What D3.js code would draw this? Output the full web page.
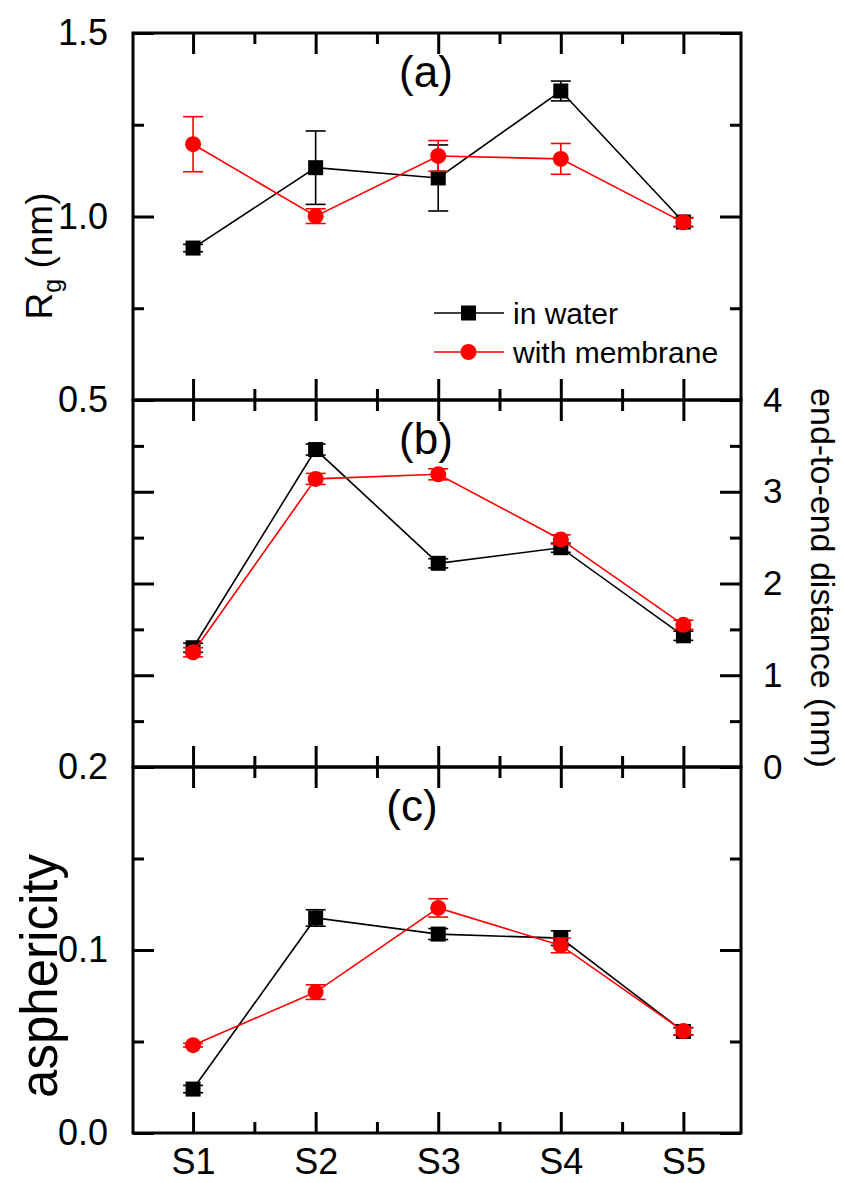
<!DOCTYPE html>
<html>
<head>
<meta charset="utf-8">
<script src="https://cdn.jsdelivr.net/npm/d3@7"></script>
<style>
  body { margin: 0; background: #fff; }
  text { font-family: "Liberation Sans", Arial, sans-serif; }
</style>
</head>
<body>
<div id="chart"></div>
<script>
// data
var categories = ["S1", "S2", "S3", "S4", "S5"];

// (a) radius of gyration (nm)
var rgWater = [0.914, 1.133, 1.105, 1.342, 0.985];
var rgWaterErr = [0.010, 0.100, 0.090, 0.027, 0.012];
var rgMem = [1.197, 1.001, 1.165, 1.157, 0.984];
var rgMemErr = [0.075, 0.020, 0.042, 0.042, 0.012];

// (b) end-to-end distance (nm)
var e2eWater = [1.30, 3.46, 2.22, 2.39, 1.43];
var e2eWaterErr = [0.05, 0.06, 0.05, 0.05, 0.05];
var e2eMem = [1.25, 3.14, 3.19, 2.48, 1.55];
var e2eMemErr = [0.05, 0.06, 0.06, 0.05, 0.05];

// (c) asphericity
var asphWater = [0.024, 0.1175, 0.1087, 0.1065, 0.0555];
var asphWaterErr = [0.002, 0.0045, 0.003, 0.004, 0.002];
var asphMem = [0.048, 0.077, 0.123, 0.1025, 0.0557];
var asphMemErr = [0.001, 0.004, 0.005, 0.004, 0.002];

var xMajor = [1, 2, 3, 4, 5];
var xMinor = [1.5, 2.5, 3.5, 4.5];

var legendLabels = ["in water", "with membrane"];

var width = 844, height = 1183;
var left = 133, right = 741;

var svg = d3.select("#chart").append("svg")
    .attr("width", width)
    .attr("height", height);

var x = d3.scaleLinear().domain([0.51, 5.47]).range([left, right]);

var panels = [
  { top: 33, bottom: 400, domain: [0.5, 1.5], major: [0.5, 1.0, 1.5], minor: [0.75, 1.25],
    fmt: d3.format(".1f"), labelSide: "left", tag: "(a)", tagX: 426,
    water: rgWater, waterErr: rgWaterErr, mem: rgMem, memErr: rgMemErr },
  { top: 400, bottom: 767, domain: [0, 4], major: [0, 1, 2, 3, 4], minor: [0.5, 1.5, 2.5, 3.5],
    fmt: d3.format("d"), labelSide: "right", tag: "(b)", tagX: 426,
    water: e2eWater, waterErr: e2eWaterErr, mem: e2eMem, memErr: e2eMemErr },
  { top: 767, bottom: 1133, domain: [0, 0.2], major: [0, 0.1, 0.2], minor: [0.05, 0.15],
    fmt: d3.format(".1f"), labelSide: "left", tag: "(c)", tagX: 412,
    water: asphWater, waterErr: asphWaterErr, mem: asphMem, memErr: asphMemErr }
];

var majorLen = 21, minorLen = 11;

panels.forEach(function(p, pi) {
  var y = d3.scaleLinear().domain(p.domain).range([p.bottom, p.top]);
  p.y = y;
  var g = svg.append("g");

  // left axis
  var gl = g.append("g").attr("transform", "translate(" + left + ",0)");
  gl.call(d3.axisLeft(y).tickValues(p.major).tickSize(-majorLen).tickPadding(25)
      .tickFormat(p.labelSide == "left" ? p.fmt : ""));
  gl.append("g").call(d3.axisLeft(y).tickValues(p.minor).tickSize(-minorLen).tickFormat(""));

  // right axis
  var gr = g.append("g").attr("transform", "translate(" + right + ",0)");
  gr.call(d3.axisRight(y).tickValues(p.major).tickSize(-majorLen).tickPadding(22)
      .tickFormat(p.labelSide == "right" ? p.fmt : ""));
  gr.append("g").call(d3.axisRight(y).tickValues(p.minor).tickSize(-minorLen).tickFormat(""));

  // top and bottom
  var gt = g.append("g").attr("transform", "translate(0," + p.top + ")");
  gt.call(d3.axisTop(x).tickValues(xMajor).tickSize(-majorLen).tickFormat(""));
  gt.append("g").call(d3.axisTop(x).tickValues(xMinor).tickSize(-minorLen).tickFormat(""));

  var gb = g.append("g").attr("transform", "translate(0," + p.bottom + ")");
  gb.call(d3.axisBottom(x).tickValues(xMajor).tickSize(-majorLen).tickPadding(15)
      .tickFormat(pi == 2 ? function(d) { return categories[d - 1]; } : ""));
  gb.append("g").call(d3.axisBottom(x).tickValues(xMinor).tickSize(-minorLen).tickFormat(""));

  g.selectAll(".domain").remove();
  g.selectAll(".tick line").attr("stroke", "#000").attr("stroke-width", 3);
  g.selectAll(".tick text").attr("fill", "#000")
      .style("font-family", "'Liberation Sans', Arial, sans-serif");
  gl.selectAll(".tick text").style("font-size", "36px");
  gr.selectAll(".tick text").style("font-size", "35px");
  gb.selectAll(".tick text").style("font-size", "36px");

  // frame
  g.append("rect")
      .attr("x", left).attr("y", p.top)
      .attr("width", right - left).attr("height", p.bottom - p.top)
      .attr("fill", "none").attr("stroke", "#000").attr("stroke-width", 3);

  // panel tag
  g.append("text")
      .attr("x", p.tagX).attr("y", p.top + 54)
      .attr("text-anchor", "middle")
      .style("font-size", "44px")
      .text(p.tag);

  var series = [
    { vals: p.water, errs: p.waterErr, color: "#000", shape: "square" },
    { vals: p.mem, errs: p.memErr, color: "#ff0000", shape: "circle" }
  ];

  series.forEach(function(s) {
    var pts = s.vals.map(function(v, i) { return { x: i + 1, v: v, e: s.errs[i] }; });
    var line = d3.line().x(function(d) { return x(d.x); }).y(function(d) { return y(d.v); });
    var sg = g.append("g");
    sg.append("path").datum(pts)
        .attr("d", line)
        .attr("fill", "none").attr("stroke", s.color).attr("stroke-width", 1.6);

    var eb = sg.selectAll(".err").data(pts).enter().append("g");
    eb.append("line")
        .attr("x1", function(d) { return x(d.x); }).attr("x2", function(d) { return x(d.x); })
        .attr("y1", function(d) { return y(d.v - d.e); }).attr("y2", function(d) { return y(d.v + d.e); })
        .attr("stroke", s.color).attr("stroke-width", 1.6);
    [-1, 1].forEach(function(sign) {
      eb.append("line")
          .attr("x1", function(d) { return x(d.x) - 10; }).attr("x2", function(d) { return x(d.x) + 10; })
          .attr("y1", function(d) { return y(d.v + sign * d.e); }).attr("y2", function(d) { return y(d.v + sign * d.e); })
          .attr("stroke", s.color).attr("stroke-width", 1.6);
    });

    if (s.shape == "square") {
      sg.selectAll(".mk").data(pts).enter().append("rect")
          .attr("x", function(d) { return x(d.x) - 7.5; })
          .attr("y", function(d) { return y(d.v) - 7.5; })
          .attr("width", 15).attr("height", 15)
          .attr("fill", s.color);
    } else {
      sg.selectAll(".mk").data(pts).enter().append("circle")
          .attr("cx", function(d) { return x(d.x); })
          .attr("cy", function(d) { return y(d.v); })
          .attr("r", 8)
          .attr("fill", s.color);
    }
  });
});

// legend in panel (a)
var legend = svg.append("g");
var legendColors = ["#000", "#ff0000"];
legendLabels.forEach(function(lab, i) {
  var ly = 313 + i * 39;
  legend.append("line")
      .attr("x1", 434).attr("x2", 504).attr("y1", ly).attr("y2", ly)
      .attr("stroke", legendColors[i]).attr("stroke-width", 1.6);
  if (i == 0) {
    legend.append("rect").attr("x", 461).attr("y", ly - 7.5)
        .attr("width", 15).attr("height", 15).attr("fill", legendColors[i]);
  } else {
    legend.append("circle").attr("cx", 468.5).attr("cy", ly).attr("r", 8)
        .attr("fill", legendColors[i]);
  }
  legend.append("text")
      .attr("x", 513).attr("y", ly + 11)
      .style("font-size", "30px")
      .text(lab);
});

// axis titles
var rg = svg.append("text")
    .attr("transform", "translate(52,256) rotate(-90)")
    .attr("text-anchor", "middle")
    .style("font-size", "37px");
rg.append("tspan").text("R");
rg.append("tspan").attr("dy", 9).style("font-size", "25px").text("g");
rg.append("tspan").attr("dy", -9).text(" (nm)");

svg.append("text")
    .attr("transform", "translate(57,976) rotate(-90)")
    .attr("text-anchor", "middle")
    .style("font-size", "51px")
    .text("asphericity");

svg.append("text")
    .attr("transform", "translate(811,578) rotate(90)")
    .attr("text-anchor", "middle")
    .style("font-size", "34px")
    .text("end-to-end distance (nm)");
</script>
</body>
</html>
